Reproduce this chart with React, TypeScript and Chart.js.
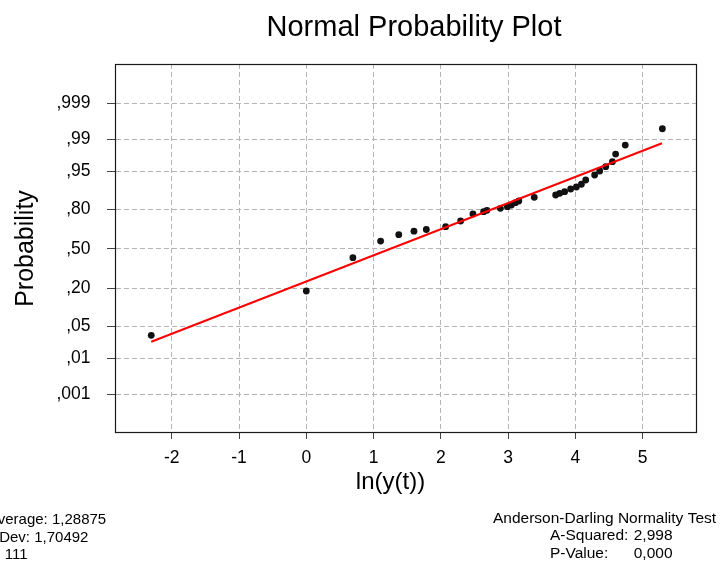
import React, { useEffect, useRef } from "react";
import { Chart, registerables } from "chart.js";

Chart.register(...registerables);

// ---- data ----
const xValues = [
  -2.306, 0.0, 0.693, 1.105, 1.375, 1.601, 1.785, 2.072, 2.295, 2.478, 2.637, 2.686,
  2.886, 2.99, 3.05, 3.11, 3.16, 3.39, 3.708, 3.768, 3.842, 3.931, 4.016, 4.091,
  4.155, 4.288, 4.363, 4.453, 4.552, 4.6, 4.743, 5.295,
];
const probValues = [
  0.0331, 0.1851, 0.425, 0.5655, 0.6179, 0.6462, 0.6591, 0.6805, 0.7224, 0.77, 0.7847, 0.7933,
  0.8051, 0.8143, 0.8238, 0.8365, 0.845, 0.863, 0.8733, 0.8806, 0.8874, 0.898, 0.9052, 0.9147,
  0.928, 0.9414, 0.9507, 0.9594, 0.9678, 0.9779, 0.9862, 0.9946,
];
const fitLineX = [-2.306, 5.289];
const fitLineProb = [0.0242, 0.9875];

const xTicks = [-2, -1, 0, 1, 2, 3, 4, 5];
const probTicks = [0.001, 0.01, 0.05, 0.2, 0.5, 0.8, 0.95, 0.99, 0.999];
const probTickLabels = [",001", ",01", ",05", ",20", ",50", ",80", ",95", ",99", ",999"];

const titleText = "Normal Probability Plot";
const xTitle = "ln(y(t))";
const yTitle = "Probability";
const statsLeft = ["Average: 1,28875", "StDev: 1,70492", "N: 111"];
const adTitle = "Anderson-Darling Normality Test";
const adLabels = ["A-Squared:", "P-Value:"];
const adValues = ["2,998", "0,000"];

// inverse standard normal CDF (probability-axis transform)
function probit(p: number): number {
  const a = [-3.969683028665376e1, 2.209460984245205e2, -2.759285104469687e2, 1.38357751867269e2, -3.066479806614716e1, 2.506628277459239];
  const b = [-5.447609879822406e1, 1.615858368580409e2, -1.556989798598866e2, 6.680131188771972e1, -1.328068155288572e1];
  const c = [-7.784894002430293e-3, -3.223964580411365e-1, -2.400758277161838, -2.549732539343734, 4.374664141464968, 2.938163982698783];
  const d = [7.784695709041462e-3, 3.224671290700398e-1, 2.445134137142996, 3.754408661907416];
  const pl = 0.02425;
  if (p < pl) {
    const q = Math.sqrt(-2 * Math.log(p));
    return (((((c[0] * q + c[1]) * q + c[2]) * q + c[3]) * q + c[4]) * q + c[5]) / ((((d[0] * q + d[1]) * q + d[2]) * q + d[3]) * q + 1);
  }
  if (p <= 1 - pl) {
    const q = p - 0.5;
    const r = q * q;
    return ((((((a[0] * r + a[1]) * r + a[2]) * r + a[3]) * r + a[4]) * r + a[5]) * q) / (((((b[0] * r + b[1]) * r + b[2]) * r + b[3]) * r + b[4]) * r + 1);
  }
  const q = Math.sqrt(-2 * Math.log(1 - p));
  return -(((((c[0] * q + c[1]) * q + c[2]) * q + c[3]) * q + c[4]) * q + c[5]) / ((((d[0] * q + d[1]) * q + d[2]) * q + d[3]) * q + 1);
}

const FONT = '"Liberation Sans", Arial, Helvetica, sans-serif';

const framePlugin = {
  id: "frame",
  afterDraw(chart: any) {
    const { ctx, chartArea: a } = chart;
    ctx.save();
    ctx.strokeStyle = "#1a1a1a";
    ctx.lineWidth = 1.2;
    ctx.strokeRect(a.left - 0.5, a.top + 0.5, a.right - a.left, a.bottom - a.top);
    ctx.restore();
  },
};

const textPlugin = {
  id: "texts",
  afterDraw(chart: any) {
    const ctx = chart.ctx as CanvasRenderingContext2D;
    ctx.save();
    ctx.fillStyle = "#000";
    ctx.textBaseline = "alphabetic";

    ctx.font = `29px ${FONT}`;
    ctx.textAlign = "center";
    ctx.fillText(titleText, 414, 36);

    ctx.font = `24px ${FONT}`;
    ctx.fillText(xTitle, 390.5, 489);

    ctx.save();
    ctx.font = `25px ${FONT}`;
    ctx.translate(33, 248.5);
    ctx.rotate(-Math.PI / 2);
    ctx.fillText(yTitle, 0, 0);
    ctx.restore();

    ctx.font = `15px ${FONT}`;
    ctx.textAlign = "left";
    const leftBase = [523.5, 542, 559];
    const leftX = [-12, -15, -14.5];
    statsLeft.forEach((t, i) => ctx.fillText(t, leftX[i], leftBase[i]));

    ctx.font = `15.5px ${FONT}`;
    ctx.fillText(adTitle, 493, 523);
    const rightBase = [540, 557.5];
    adLabels.forEach((t, i) => ctx.fillText(t, 550, rightBase[i]));
    ctx.textAlign = "right";
    adValues.forEach((t, i) => ctx.fillText(t, 672.5, rightBase[i]));
    ctx.restore();
  },
};

export default function App() {
  const ref = useRef<HTMLCanvasElement | null>(null);

  useEffect(() => {
    document.body.style.margin = "0";
    if (!ref.current) return;

    const points = xValues.map((x, i) => ({ x, y: probit(probValues[i]) }));
    const fitLine = fitLineX.map((x, i) => ({ x, y: probit(fitLineProb[i]) }));
    const zTicks = probTicks.map(probit);

    const chart = new Chart(ref.current, {
      type: "scatter",
      data: {
        datasets: [
          {
            type: "line",
            data: fitLine,
            borderColor: "#ff0000",
            borderWidth: 2,
            pointRadius: 0,
            fill: false,
            tension: 0,
            order: 0,
          } as any,
          {
            type: "scatter",
            data: points,
            backgroundColor: "#111111",
            borderColor: "#111111",
            borderWidth: 0,
            pointRadius: 3.4,
            order: 1,
          } as any,
        ],
      },
      options: {
        animation: false,
        responsive: true,
        maintainAspectRatio: false,
        devicePixelRatio: 1,
        events: [],
        layout: { padding: { top: 64, right: 29, bottom: 97, left: 0 } },
        plugins: {
          legend: { display: false },
          tooltip: { enabled: false },
          title: { display: false },
        },
        scales: {
          x: {
            type: "linear",
            position: "bottom",
            min: -2.83,
            max: 5.81,
            afterBuildTicks: (s: any) => {
              s.ticks = xTicks.map((v) => ({ value: v }));
            },
            afterFit: (s: any) => {
              s.height = 40;
            },
            ticks: {
              color: "#000",
              font: { family: FONT, size: 17.5 },
              padding: 8.5,
              maxRotation: 0,
              autoSkip: false,
              callback: (v: any) => String(v),
            },
            grid: {
              color: "#b4b4b4",
              lineWidth: 1,
              tickLength: 7,
              tickColor: "#444",
              tickBorderDash: [],
            } as any,
            border: { display: false, dash: [5, 3] },
          },
          y: {
            type: "linear",
            min: -3.89,
            max: 3.924,
            afterBuildTicks: (s: any) => {
              s.ticks = zTicks.map((v) => ({ value: v }));
            },
            afterFit: (s: any) => {
              s.width = 116;
            },
            ticks: {
              color: "#000",
              font: { family: FONT, size: 17.5 },
              padding: 16.5,
              autoSkip: false,
              callback: (v: any) => {
                let best = 0;
                zTicks.forEach((z, i) => {
                  if (Math.abs(z - v) < Math.abs(zTicks[best] - v)) best = i;
                });
                return probTickLabels[best];
              },
            },
            grid: {
              color: "#b4b4b4",
              lineWidth: 1,
              tickLength: 9,
              tickColor: "#444",
              tickBorderDash: [],
            } as any,
            border: { display: false, dash: [5, 3] },
          },
        },
      },
      plugins: [framePlugin, textPlugin],
    });

    return () => chart.destroy();
  }, []);

  return (
    <div style={{ position: "relative", width: 726, height: 569 }}>
      <canvas ref={ref} />
    </div>
  );
}
